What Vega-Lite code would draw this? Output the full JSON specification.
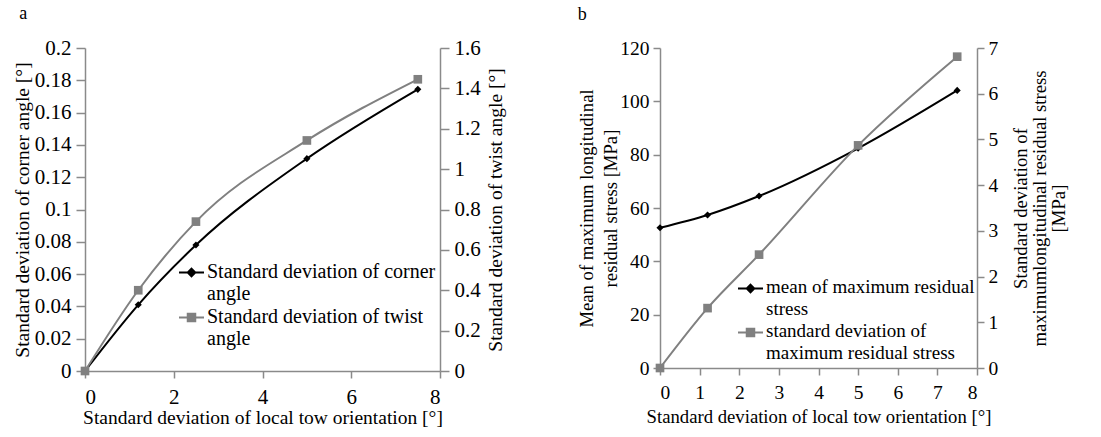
{
  "$schema": "https://vega.github.io/schema/vega-lite/v6.json",
  "background": "white",
  "padding": {"left": 12, "top": 5, "right": 2, "bottom": 5},
  "spacing": 72,
  "resolve": {"scale": {"color": "independent"}, "legend": {"color": "independent"}},
  "config": {
    "font": "Liberation Serif",
    "view": {"stroke": null},
    "axis": {
      "labelFont": "Liberation Serif", "labelFontSize": 19.5, "labelColor": "black",
      "titleFont": "Liberation Serif", "titleFontSize": 18.7, "titleFontWeight": "normal", "titleColor": "black",
      "domainColor": "#8a8a8a", "tickColor": "#8a8a8a", "domainWidth": 1.5, "tickWidth": 1.5,
      "grid": false, "tickSize": 7, "labelPadding": 4, "titlePadding": 6
    },
    "legend": {
      "labelFont": "Liberation Serif", "labelFontSize": 19, "labelColor": "black",
      "labelLimit": 400, "symbolSize": 625, "symbolStrokeWidth": 2, "rowPadding": -4
    },
    "title": {"font": "Liberation Serif", "fontSize": 18, "fontWeight": "normal", "color": "black", "anchor": "start", "frame": "bounds"}
  },
  "hconcat": [
    {
      "title": {"text": "a", "offset": 14, "dx": 7},
      "width": 355,
      "height": 323,
      "data": {"values": [
        {"x": 0, "corner": 0, "twist": 0},
        {"x": 1.2, "corner": 0.041, "twist": 0.40},
        {"x": 2.5, "corner": 0.078, "twist": 0.74},
        {"x": 5, "corner": 0.1315, "twist": 1.142},
        {"x": 7.5, "corner": 0.1744, "twist": 1.445}
      ]},
      "encoding": {
        "x": {"field": "x", "type": "quantitative", "scale": {"domain": [0, 8], "nice": false},
          "axis": {"values": [0, 2, 4, 6, 8], "labelFontSize": 21, "titleFontSize": 19.5, "labelPadding": 8, "titlePadding": 1, "title": "Standard deviation of local tow orientation [°]"}}
      },
      "layer": [
        {
          "mark": {"type": "line", "interpolate": "monotone", "strokeWidth": 2, "point": {"shape": "diamond", "size": 50, "filled": true}},
          "encoding": {
            "y": {"field": "corner", "type": "quantitative", "scale": {"domain": [0, 0.2], "nice": false},
              "axis": {"orient": "left", "values": [0, 0.02, 0.04, 0.06, 0.08, 0.1, 0.12, 0.14, 0.16, 0.18, 0.2], "format": "~g", "labelFontSize": 21, "titleFontSize": 19.5, "tickSize": 9, "labelPadding": 5, "titlePadding": 2, "title": "Standard deviation of  corner angle [°]"}},
            "color": {"datum": "Standard deviation of corner angle", "type": "nominal",
              "scale": {"domain": ["Standard deviation of corner angle", "Standard deviation of twist angle"], "range": ["black", "#808080"]},
              "legend": {
                "title": null, "orient": "none", "legendX": 93, "legendY": 211, "labelFontSize": 19, "rowPadding": -12,
                "labelExpr": "datum.label == 'Standard deviation of corner angle' ? ['Standard deviation of corner', 'angle'] : ['Standard deviation of twist', 'angle']",
                "labelBaseline": "top", "labelOffset": 2,
                "encode": {
                  "symbols": {"update": {
                    "shape": {"signal": "datum.value == 'Standard deviation of corner angle' ? 'M-1,0H1M0,-0.3L0.3,0L0,0.3L-0.3,0Z' : 'M-1,0H1M-0.3,-0.3H0.3V0.3H-0.3Z'"},
                    "fill": {"signal": "datum.value == 'Standard deviation of corner angle' ? 'black' : '#808080'"},
                    "strokeWidth": {"value": 2}
                  }},
                  "labels": {"update": {"dy": {"value": -11}, "lineHeight": {"value": 22}, "fontSize": {"value": 20}}}
                }
              }}
          }
        },
        {
          "mark": {"type": "line", "interpolate": "monotone", "strokeWidth": 2, "point": {"shape": "square", "size": 75, "filled": true}},
          "encoding": {
            "y": {"field": "twist", "type": "quantitative", "scale": {"domain": [0, 1.6], "nice": false},
              "axis": {"orient": "right", "values": [0, 0.2, 0.4, 0.6, 0.8, 1, 1.2, 1.4, 1.6], "format": "~g", "labelFontSize": 21, "titleFontSize": 19.5, "tickSize": 9, "labelPadding": 5, "title": "Standard deviation of twist angle [°]", "titleAngle": -90, "titleBaseline": "top"}},
            "color": {"datum": "Standard deviation of twist angle", "type": "nominal"}
          }
        }
      ],
      "resolve": {"scale": {"y": "independent"}}
    },
    {
      "title": {"text": "b", "offset": 14, "dx": 0},
      "width": 317,
      "height": 320,
      "data": {"values": [
        {"x": 0, "mean": 52.6, "sd": 0},
        {"x": 1.2, "mean": 57.4, "sd": 1.31},
        {"x": 2.5, "mean": 64.5, "sd": 2.48},
        {"x": 5, "mean": 82.4, "sd": 4.87},
        {"x": 7.5, "mean": 104.1, "sd": 6.81}
      ]},
      "encoding": {
        "x": {"field": "x", "type": "quantitative", "scale": {"domain": [0, 8], "nice": false},
          "axis": {"values": [0, 1, 2, 3, 4, 5, 6, 7, 8], "labelPadding": 8, "title": "Standard deviation of local tow orientation [°]"}}
      },
      "layer": [
        {
          "mark": {"type": "line", "interpolate": "monotone", "strokeWidth": 2, "point": {"shape": "diamond", "size": 50, "filled": true}},
          "encoding": {
            "y": {"field": "mean", "type": "quantitative", "scale": {"domain": [0, 120], "nice": false},
              "axis": {"orient": "left", "values": [0, 20, 40, 60, 80, 100, 120], "titleLineHeight": 24, "titlePadding": -1, "title": ["Mean of  maximum longitudinal", "residual stress [MPa]"]}},
            "color": {"datum": "mean of maximum residual stress", "type": "nominal",
              "scale": {"domain": ["mean of maximum residual stress", "standard deviation of maximum residual stress"], "range": ["black", "#808080"]},
              "legend": {
                "title": null, "orient": "none", "legendX": 77, "legendY": 227,
                "labelExpr": "datum.label == 'mean of maximum residual stress' ? ['mean of maximum residual', 'stress'] : ['standard deviation of', 'maximum residual stress']",
                "labelBaseline": "top", "labelOffset": 2,
                "encode": {
                  "symbols": {"update": {
                    "shape": {"signal": "datum.value == 'mean of maximum residual stress' ? 'M-1,0H1M0,-0.3L0.3,0L0,0.3L-0.3,0Z' : 'M-1,0H1M-0.3,-0.3H0.3V0.3H-0.3Z'"},
                    "fill": {"signal": "datum.value == 'mean of maximum residual stress' ? 'black' : '#808080'"},
                    "strokeWidth": {"value": 2}
                  }},
                  "labels": {"update": {"dy": {"value": -11}, "lineHeight": {"value": 22}}}
                }
              }}
          }
        },
        {
          "mark": {"type": "line", "interpolate": "monotone", "strokeWidth": 2, "point": {"shape": "square", "size": 75, "filled": true}},
          "encoding": {
            "y": {"field": "sd", "type": "quantitative", "scale": {"domain": [0, 7], "nice": false},
              "axis": {"orient": "right", "values": [0, 1, 2, 3, 4, 5, 6, 7], "titleLineHeight": 19, "titlePadding": -24, "title": ["Standard deviation of", "maximumlongitudinal residual stress", "[MPa]"], "titleAngle": -90, "titleBaseline": "top"}},
            "color": {"datum": "standard deviation of maximum residual stress", "type": "nominal"}
          }
        }
      ],
      "resolve": {"scale": {"y": "independent"}}
    }
  ]
}
